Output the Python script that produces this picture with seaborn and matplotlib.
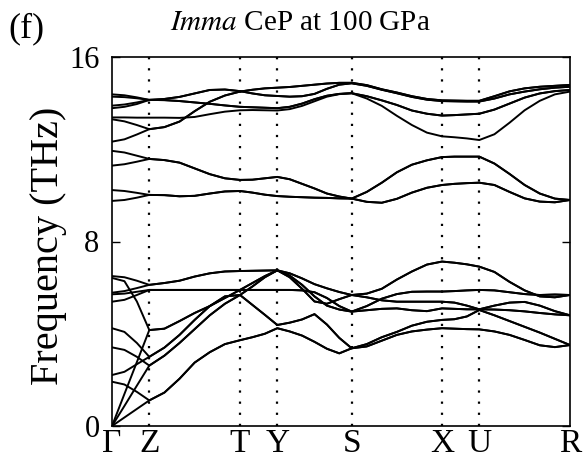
import numpy as np
import pandas as pd
import matplotlib
matplotlib.use("Agg")
import matplotlib.pyplot as plt
import seaborn as sns

# ---------------- data ----------------
sym_labels = ["Γ", "Z", "T", "Y", "S", "X", "U", "R"]
sym_pos = [0.0, 37.3, 128.0, 165.3, 239.7, 330.0, 367.3, 458.0]   # path length
seg_steps = [3, 6, 3, 6, 6, 3, 6]                                   # q-points per segment

# Γ–Z parts (first 3 q-points) of each branch, THz
hi_head_1a = [14.38, 14.34, 14.25]
hi_head_1b = [14.28, 14.26, 14.21]
hi_head_2a = [13.89, 13.94, 14.03]
hi_head_2b = [13.78, 13.84, 13.96]
hi_head_3a = [13.38, 13.38, 13.37]
hi_head_4a = [13.30, 13.21, 13.05]
hi_head_4b = [12.33, 12.43, 12.64]
hi_head_5a = [11.93, 11.86, 11.72]
hi_head_5b = [11.29, 11.35, 11.46]
hi_head_6a = [10.23, 10.19, 10.11]
hi_head_6b = [9.76, 9.80, 9.90]

lo_head_1a = [6.50, 6.45, 6.30]
lo_head_1b = [5.78, 5.85, 5.98]
lo_head_2a = [5.71, 5.74, 5.82]
lo_head_2b = [5.39, 5.47, 5.68]
lo_head_3a = [6.42, 6.28, 5.40]
lo_head_3b = [0.00, 1.39, 2.77]
lo_head_4a = [4.24, 4.08, 3.60]
lo_head_4b = [2.21, 2.35, 2.68]
lo_head_5a = [3.41, 3.30, 3.00]
lo_head_5b = [0.00, 0.87, 1.75]
lo_head_6a = [1.92, 1.80, 1.48]
lo_head_6b = [0.00, 0.37, 0.74]

# Z -> T -> Y -> S -> X -> U -> R (doubly degenerate branches), THz
hi_tail_1 = [14.14, 14.18, 14.27, 14.42, 14.57, 14.59, 14.52, 14.42, 14.34, 14.31, 14.28,
             14.30, 14.40, 14.62, 14.80, 14.86, 14.75, 14.58, 14.43, 14.27, 14.15, 14.09,
             14.08, 14.07, 14.07, 14.20, 14.38, 14.50, 14.60, 14.67, 14.71]
hi_tail_2 = [14.14, 14.13, 14.09, 14.03, 13.97, 13.90, 13.84, 13.82, 13.80, 13.78, 13.84,
             13.98, 14.17, 14.32, 14.40, 14.43, 14.30, 14.12, 13.92, 13.68, 13.54, 13.46,
             13.48, 13.51, 13.54, 13.72, 13.98, 14.24, 14.42, 14.52, 14.57]
hi_tail_3 = [13.37, 13.37, 13.36, 13.40, 13.52, 13.63, 13.69, 13.70, 13.69, 13.68, 13.74,
             13.88, 14.08, 14.28, 14.39, 14.43, 14.20, 13.88, 13.45, 13.05, 12.72, 12.56,
             12.52, 12.47, 12.40, 12.65, 13.15, 13.69, 14.10, 14.38, 14.50]
hi_tail_4 = [12.87, 12.96, 13.20, 13.65, 14.06, 14.33, 14.50, 14.58, 14.64, 14.67, 14.70,
             14.75, 14.80, 14.85, 14.88, 14.88, 14.78, 14.60, 14.46, 14.30, 14.18, 14.12,
             14.11, 14.10, 14.10, 14.30, 14.51, 14.64, 14.71, 14.75, 14.79]
hi_tail_5 = [11.58, 11.53, 11.42, 11.17, 10.92, 10.74, 10.67, 10.68, 10.74, 10.80, 10.70,
             10.50, 10.30, 10.08, 9.95, 9.86, 10.15, 10.55, 11.00, 11.33, 11.52, 11.66,
             11.68, 11.68, 11.68, 11.38, 10.93, 10.45, 10.08, 9.86, 9.80]
hi_tail_6 = [10.02, 10.01, 9.96, 9.98, 10.08, 10.17, 10.19, 10.12, 10.03, 9.97, 9.94,
             9.92, 9.90, 9.89, 9.87, 9.86, 9.72, 9.68, 9.85, 10.12, 10.33, 10.45,
             10.50, 10.53, 10.55, 10.45, 10.15, 9.87, 9.73, 9.70, 9.80]

lo_tail_1 = [6.12, 6.20, 6.30, 6.48, 6.62, 6.70, 6.72, 6.73, 6.74, 6.75, 6.62,
             6.40, 6.15, 5.97, 5.81, 5.68, 5.74, 5.95, 6.35, 6.70, 7.00, 7.13,
             7.08, 7.01, 6.91, 6.68, 6.25, 5.88, 5.62, 5.58, 5.68]
lo_tail_2 = [5.90, 5.90, 5.90, 5.90, 5.90, 5.90, 5.90, 5.90, 5.90, 5.90, 5.90,
             5.88, 5.80, 5.55, 5.20, 4.96, 5.20, 5.52, 5.72, 5.82, 5.83, 5.83,
             5.85, 5.88, 5.90, 5.88, 5.80, 5.72, 5.68, 5.70, 5.68]
lo_tail_3 = [4.16, 4.22, 4.55, 4.90, 5.20, 5.55, 5.90, 6.20, 6.50, 6.75, 6.45,
             5.95, 5.40, 5.30, 5.50, 5.68, 5.58, 5.45, 5.39, 5.39, 5.39, 5.39,
             5.35, 5.22, 5.06, 5.22, 5.35, 5.38, 5.22, 4.98, 4.80]
lo_tail_4 = [3.00, 3.40, 3.95, 4.60, 5.20, 5.62, 5.68, 6.05, 6.45, 6.75, 6.52,
             6.12, 5.62, 5.22, 5.05, 4.96, 5.02, 5.08, 5.10, 5.02, 4.98, 5.10,
             5.08, 5.06, 5.06, 5.05, 5.02, 4.97, 4.90, 4.84, 4.80]
lo_tail_5 = [2.62, 3.05, 3.60, 4.20, 4.80, 5.30, 5.68, 5.25, 4.82, 4.38, 4.48,
             4.62, 4.85, 4.40, 3.82, 3.37, 3.55, 3.85, 4.08, 4.35, 4.52, 4.60,
             4.63, 4.75, 5.03, 4.80, 4.55, 4.30, 4.05, 3.78, 3.51]
lo_tail_6 = [1.11, 1.45, 2.05, 2.75, 3.20, 3.55, 3.72, 3.85, 4.00, 4.24, 4.10,
             3.92, 3.65, 3.35, 3.15, 3.37, 3.45, 3.70, 3.95, 4.10, 4.18, 4.24,
             4.22, 4.20, 4.19, 4.10, 3.95, 3.73, 3.50, 3.42, 3.51]

branches = {
    "h1a": hi_head_1a + hi_tail_1, "h1b": hi_head_1b + hi_tail_1,
    "h2a": hi_head_2a + hi_tail_2, "h2b": hi_head_2b + hi_tail_2,
    "h3a": hi_head_3a + hi_tail_3,
    "h4a": hi_head_4a + hi_tail_4, "h4b": hi_head_4b + hi_tail_4,
    "h5a": hi_head_5a + hi_tail_5, "h5b": hi_head_5b + hi_tail_5,
    "h6a": hi_head_6a + hi_tail_6, "h6b": hi_head_6b + hi_tail_6,
    "l1a": lo_head_1a + lo_tail_1, "l1b": lo_head_1b + lo_tail_1,
    "l2a": lo_head_2a + lo_tail_2, "l2b": lo_head_2b + lo_tail_2,
    "l3a": lo_head_3a + lo_tail_3, "l3b": lo_head_3b + lo_tail_3,
    "l4a": lo_head_4a + lo_tail_4, "l4b": lo_head_4b + lo_tail_4,
    "l5a": lo_head_5a + lo_tail_5, "l5b": lo_head_5b + lo_tail_5,
    "l6a": lo_head_6a + lo_tail_6, "l6b": lo_head_6b + lo_tail_6,
}

# q-point path coordinate
kpath = [sym_pos[0]]
for a, b, n in zip(sym_pos[:-1], sym_pos[1:], seg_steps):
    kpath.extend(np.linspace(a, b, n + 1)[1:])
kpath = np.array(kpath)

rows = []
for name, vals in branches.items():
    assert len(vals) == len(kpath), (name, len(vals))
    for kk, f in zip(kpath, vals):
        rows.append((name, kk, f))
df = pd.DataFrame(rows, columns=["band", "k", "freq"])

# ---------------- plot ----------------
sns.set_theme(style="white")
plt.rcParams["font.family"] = ["Liberation Serif", "DejaVu Serif"]
plt.rcParams["mathtext.fontset"] = "stix"

fig = plt.figure(figsize=(5.88, 4.62), dpi=100)
fig.patch.set_facecolor("white")
ax = fig.add_axes([112 / 588, 1 - 426 / 462, 458 / 588, 369 / 462])

sns.lineplot(data=df, x="k", y="freq", units="band", estimator=None,
             color="black", linewidth=1.4, ax=ax, legend=False)

for p in sym_pos[1:-1]:
    ax.axvline(p, color="black", linestyle=(0, (1, 4)), linewidth=1.6, zorder=0)

ax.set_xlim(sym_pos[0], sym_pos[-1])
ax.set_ylim(0, 16)
ax.set_xticks(sym_pos)
ax.set_xticklabels(sym_labels, fontsize=24)
ax.set_yticks([0, 8, 16])
ax.set_yticklabels(["0", "8", "16"], fontsize=22)
ax.tick_params(axis="x", length=0, pad=2, colors="black")
ax.tick_params(axis="y", direction="in", length=6, width=1, left=True, right=True,
               pad=9, colors="black")
for s in ax.spines.values():
    s.set_visible(True)
    s.set_color("black")
    s.set_linewidth(1.2)

ax.set_xlabel("")
ax.set_ylabel("Frequency (THz)", fontsize=29, color="black")
ax.yaxis.set_label_coords(-0.138, 0.487)
ax.yaxis.label.set_va("center")

fig.text(300 / 588, 1 - 23 / 462, r"$\mathit{Imma}$ CeP at 100 GPa",
         ha="center", va="center", fontsize=21, color="black")
fig.text(8 / 588, 1 - 29 / 462, "(f)", ha="left", va="center", fontsize=26, color="black")

fig.savefig("out.png", dpi=100, facecolor="white")
